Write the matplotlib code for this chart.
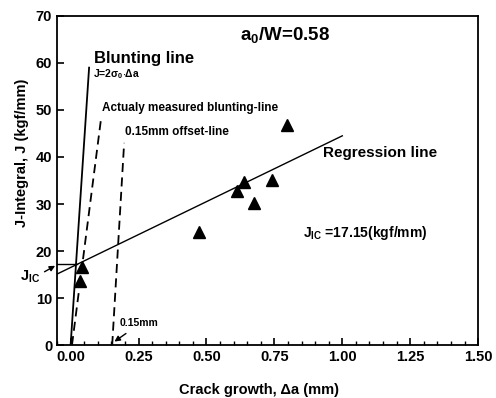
import matplotlib
matplotlib.use('Agg')
import matplotlib.pyplot as plt
from matplotlib.ticker import MultipleLocator

plt.rcParams['font.family'] = ['Liberation Sans', 'DejaVu Sans']
plt.rcParams['font.weight'] = 'bold'
plt.rcParams['mathtext.fontset'] = 'custom'
plt.rcParams['mathtext.rm'] = 'Liberation Sans:bold'
plt.rcParams['mathtext.it'] = 'Liberation Sans:bold'
plt.rcParams['mathtext.bf'] = 'Liberation Sans:bold'

# measured points
crack = [0.035, 0.042, 0.473, 0.613, 0.639, 0.675, 0.742, 0.797]
jval = [13.6, 16.6, 24.1, 32.8, 34.7, 30.3, 35.2, 46.9]

# line end points
blunt_x = [0.0, 0.068]
blunt_j = [0.0, 59.0]
meas_x = [0.005, 0.111]
meas_j = [0.0, 47.7]
offset_x = [0.153, 0.197]
offset_j = [0.0, 43.0]
reg_x = [-0.05, 1.0]
reg_j = [15.1, 44.5]
jic = 17.15

xticks = [0.0, 0.25, 0.5, 0.75, 1.0, 1.25, 1.5]
yticks = [0, 10, 20, 30, 40, 50, 60, 70]

fig = plt.figure(figsize=(4.96, 3.98), dpi=100)
ax = fig.add_axes([0.115, 0.133, 0.849, 0.827])

ax.plot(blunt_x, blunt_j, 'k-', lw=1.3)
ax.plot(meas_x, meas_j, 'k--', lw=1.3, dashes=(5, 3))
ax.plot(offset_x, offset_j, 'k--', lw=1.3, dashes=(5, 3))
ax.plot(reg_x, reg_j, 'k-', lw=1.0)
ax.plot([-0.05, 0.025], [jic, jic], 'k-', lw=1.0)
ax.plot(crack, jval, 'k^', ms=8.5, ls='none')

ax.set_xlim(-0.05, 1.5)
ax.set_ylim(0, 70)
ax.set_xticks(xticks)
ax.set_xticklabels(['%.2f' % t for t in xticks])
ax.set_yticks(yticks)
ax.xaxis.set_minor_locator(MultipleLocator(0.05))
ax.tick_params(direction='in', labelsize=10.5, length=5, width=1.2)
ax.tick_params(which='minor', direction='in', length=3, width=1.0)
for s in ax.spines.values():
    s.set_linewidth(1.3)

ax.set_xlabel('Crack growth, Δa (mm)', fontsize=10.5, fontweight='bold')
ax.set_ylabel('J-Integral, J (kgf/mm)', fontsize=10.5, fontweight='bold')
ax.xaxis.set_label_coords(0.48, -0.115)
ax.yaxis.set_label_coords(-0.067, 0.584)

ax.text(0.086, 60.9, 'Blunting line', fontsize=12, va='center')
ax.text(0.083, 57.7, r'J=2$\sigma_0$$\cdot$Δa', fontsize=7.5, va='center')
ax.text(0.116, 50.4, 'Actualy measured blunting-line', fontsize=8.5, va='center')
ax.text(0.2, 45.3, '0.15mm offset-line', fontsize=8.5, va='center')
ax.text(0.624, 66, r'a$_0$/W=0.58', fontsize=13.5, va='center')
ax.text(0.929, 40.9, 'Regression line', fontsize=11, va='center')
ax.text(0.856, 23.8, r'J$_{IC}$ =17.15(kgf/mm)', fontsize=10, va='center')
ax.text(0.182, 4.7, '0.15mm', fontsize=7.5, va='center')

ax.annotate('', xy=(0.153, 0.4), xytext=(0.212, 2.8),
            arrowprops=dict(arrowstyle='-|>', color='k', lw=1.0, mutation_scale=8))
ax.annotate('', xy=(-0.048, jic), xytext=(-0.105, 15.3),
            arrowprops=dict(arrowstyle='-|>', color='k', lw=1.0, mutation_scale=8),
            annotation_clip=False)
ax.text(-0.185, 14.5, r'J$_{IC}$', fontsize=10.5, va='center', clip_on=False)

fig.savefig('out.png', dpi=100)
